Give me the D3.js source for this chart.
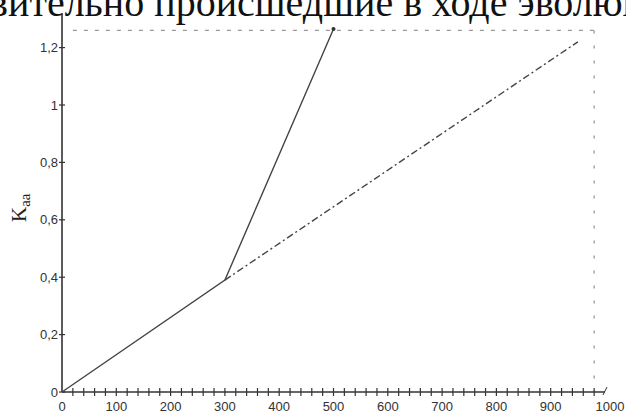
<!DOCTYPE html>
<html lang="ru">
<head>
<meta charset="utf-8">
<title>K_aa</title>
<script src="https://cdn.jsdelivr.net/npm/d3@7"></script>
<style>
  body { margin: 0; background: #fff; }
  svg { display: block; }
</style>
</head>
<body>
<script>
// values
const captionText = "действительно происшедшие в ходе эволюции";
const captionPrefix = "действ";
const xLabels = [0, 100, 200, 300, 400, 500, 600, 700, 800, 900, 1000];
const xMinor = d3.range(0, 1001, 20);
const yLabels = [0, 0.2, 0.4, 0.6, 0.8, 1, 1.2];
const solidSeries = [[0, 0], [300, 0.39], [500, 1.265]];
const dashedSeries = [[300, 0.39], [950, 1.22]];
const limitX = 980;
const limitY = 1.26;

const w = 626, h = 415;
const svg = d3.select("body").append("svg").attr("width", w).attr("height", h);

const x = d3.scaleLinear().domain([0, 1000]).range([62, 605]);
const y = d3.scaleLinear().domain([0, 1.2]).range([392, 47.6]);
const fmt = d => String(d).replace(".", ",");

// caption cut at top (tail of a sentence from the page above)
const capFont = "Liberation Serif, Times New Roman, serif";
const cap = svg.append("text")
  .attr("y", 16)
  .attr("font-family", capFont)
  .attr("font-size", 40)
  .attr("fill", "#111")
  .text(captionText);
const probe = svg.append("text")
  .attr("font-family", capFont)
  .attr("font-size", 40)
  .text(captionPrefix);
const prefLen = probe.node().getComputedTextLength();
probe.remove();
cap.attr("x", 8 - prefLen);

// dotted limit lines
svg.append("line")
  .attr("x1", x(20)).attr("x2", x(limitX))
  .attr("y1", y(limitY)).attr("y2", y(limitY))
  .attr("stroke", "#999").attr("stroke-width", 1.3)
  .attr("stroke-dasharray", "4,7");
svg.append("line")
  .attr("x1", x(limitX)).attr("x2", x(limitX))
  .attr("y1", y(limitY)).attr("y2", y(0))
  .attr("stroke", "#999").attr("stroke-width", 1.3)
  .attr("stroke-dasharray", "3,12");

// y axis
svg.append("line")
  .attr("x1", x(0)).attr("x2", x(0))
  .attr("y1", 13).attr("y2", y(0))
  .attr("stroke", "#333").attr("stroke-width", 1.6);
svg.selectAll(".ytick").data(yLabels).enter().append("line")
  .attr("x1", x(0) - 3).attr("x2", x(0) + 3)
  .attr("y1", d => y(d)).attr("y2", d => y(d))
  .attr("stroke", "#333").attr("stroke-width", 1.2);
svg.selectAll(".ylab").data(yLabels).enter().append("text")
  .attr("x", x(0) - 4)
  .attr("y", d => y(d) + 4.5)
  .attr("text-anchor", "end")
  .attr("font-family", "Liberation Sans, Arial, sans-serif")
  .attr("font-size", 13)
  .attr("fill", "#333")
  .text(fmt);

// x axis
svg.append("line")
  .attr("x1", x(0)).attr("x2", x(1000))
  .attr("y1", y(0)).attr("y2", y(0))
  .attr("stroke", "#333").attr("stroke-width", 1.6);
svg.selectAll(".xtick").data(xMinor.slice(1, -1)).enter().append("line")
  .attr("x1", d => x(d)).attr("x2", d => x(d))
  .attr("y1", y(0) - 4).attr("y2", y(0) + 4)
  .attr("stroke", "#333").attr("stroke-width", 1.2);
svg.append("line")
  .attr("x1", x(1000) - 2).attr("x2", x(1000) + 2)
  .attr("y1", y(0) + 3).attr("y2", y(0) - 5)
  .attr("stroke", "#333").attr("stroke-width", 1);
svg.selectAll(".xlab").data(xLabels).enter().append("text")
  .attr("x", d => x(d) + (d === 1000 ? 5 : 0))
  .attr("y", 411)
  .attr("text-anchor", "middle")
  .attr("font-family", "Liberation Sans, Arial, sans-serif")
  .attr("font-size", 13)
  .attr("fill", "#333")
  .text(d => d);

// y label K_aa
const yl = svg.append("text")
  .attr("transform", "translate(26,222) rotate(-90)")
  .attr("font-family", "Liberation Serif, Times New Roman, serif")
  .attr("fill", "#222");
yl.append("tspan").attr("font-size", 21).text("K");
yl.append("tspan").attr("font-size", 15).attr("dy", 4).text("aa");

// series
const line = d3.line().x(d => x(d[0])).y(d => y(d[1]));
svg.append("path").datum(dashedSeries)
  .attr("d", line).attr("fill", "none")
  .attr("stroke", "#444").attr("stroke-width", 1.4)
  .attr("stroke-dasharray", "7,3,2,3");
svg.append("path").datum(solidSeries)
  .attr("d", line).attr("fill", "none")
  .attr("stroke", "#444").attr("stroke-width", 1.4);
svg.append("circle")
  .attr("cx", x(solidSeries[2][0])).attr("cy", y(solidSeries[2][1]))
  .attr("r", 2).attr("fill", "#333");
</script>
</body>
</html>
